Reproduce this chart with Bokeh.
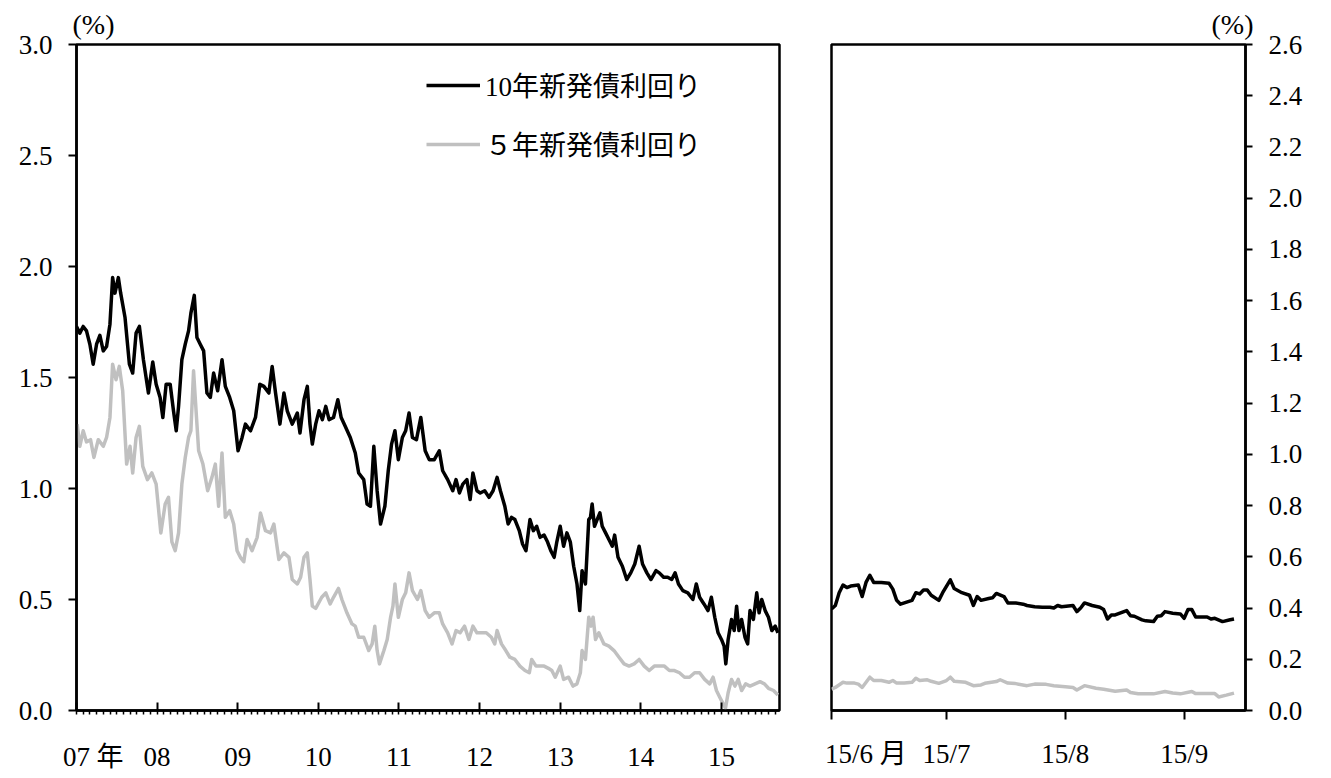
import pandas as pd
from bokeh.plotting import figure
from bokeh.layouts import row
from bokeh.models import (Range1d, FixedTicker, NumeralTickFormatter, Legend,
                          LegendItem, Title, ColumnDataSource, LinearAxis)
from bokeh.embed import file_html
from bokeh.resources import INLINE

FONT = "Liberation Serif, Noto Sans CJK JP"

# ---------------- data: long-run panel (decimal years) ----------------
years_10y = [2007.000, 2007.041, 2007.083, 2007.124, 2007.166, 2007.207, 2007.249, 2007.290, 2007.332, 2007.373,
             2007.415, 2007.448, 2007.477, 2007.519, 2007.548, 2007.602, 2007.656, 2007.697, 2007.739, 2007.780,
             2007.830, 2007.892, 2007.946, 2007.988, 2008.037, 2008.071, 2008.112, 2008.162, 2008.203, 2008.237,
             2008.266, 2008.307, 2008.349, 2008.390, 2008.419, 2008.461, 2008.494, 2008.535, 2008.577, 2008.618,
             2008.660, 2008.701, 2008.751, 2008.805, 2008.846, 2008.900, 2008.950, 2009.004, 2009.054, 2009.095,
             2009.158, 2009.220, 2009.274, 2009.324, 2009.386, 2009.427, 2009.469, 2009.523, 2009.573, 2009.614,
             2009.676, 2009.739, 2009.772, 2009.822, 2009.863, 2009.896, 2009.925, 2009.967,
             2010.008, 2010.050, 2010.092, 2010.133, 2010.188, 2010.242, 2010.283, 2010.333, 2010.396, 2010.458,
             2010.500, 2010.563, 2010.604, 2010.646, 2010.688, 2010.729, 2010.771, 2010.825, 2010.867, 2010.908,
             2010.950, 2010.992, 2011.042, 2011.083, 2011.125, 2011.167, 2011.217, 2011.271, 2011.325, 2011.375,
             2011.438, 2011.500, 2011.542, 2011.604, 2011.667, 2011.708, 2011.750, 2011.792, 2011.842, 2011.883,
             2011.917, 2011.967, 2012.008, 2012.063, 2012.117, 2012.167, 2012.217, 2012.258, 2012.313, 2012.354,
             2012.396, 2012.438, 2012.492, 2012.533, 2012.575, 2012.625, 2012.667, 2012.708, 2012.750, 2012.800,
             2012.842, 2012.883, 2012.925, 2012.958, 2013.000, 2013.042, 2013.083, 2013.125, 2013.167, 2013.208,
             2013.242, 2013.271, 2013.313, 2013.354, 2013.375, 2013.396, 2013.425, 2013.458, 2013.492, 2013.521,
             2013.563, 2013.604, 2013.646, 2013.675, 2013.717, 2013.771, 2013.825, 2013.875, 2013.925, 2013.979,
             2014.021, 2014.075, 2014.125, 2014.188, 2014.229, 2014.283, 2014.333, 2014.383, 2014.425, 2014.467,
             2014.521, 2014.583, 2014.646, 2014.688, 2014.729, 2014.783, 2014.833, 2014.875, 2014.917, 2014.958,
             2015.000, 2015.033, 2015.054, 2015.083, 2015.125, 2015.158, 2015.188, 2015.217, 2015.250, 2015.292,
             2015.325, 2015.354, 2015.396, 2015.438, 2015.467, 2015.500, 2015.542, 2015.583, 2015.625, 2015.667,
             2015.700]
yield_10y = [1.73, 1.70, 1.73, 1.71, 1.65, 1.56, 1.65, 1.69, 1.62, 1.64,
             1.74, 1.95, 1.88, 1.95, 1.88, 1.77, 1.56, 1.52, 1.70, 1.73,
             1.58, 1.43, 1.57, 1.47, 1.41, 1.32, 1.47, 1.47, 1.35, 1.26,
             1.37, 1.58, 1.65, 1.71, 1.79, 1.87, 1.68, 1.65, 1.62, 1.43,
             1.41, 1.52, 1.44, 1.58, 1.46, 1.41, 1.35, 1.17, 1.23, 1.29,
             1.26, 1.32, 1.47, 1.46, 1.43, 1.55, 1.43, 1.29, 1.43, 1.35,
             1.29, 1.34, 1.25, 1.40, 1.46, 1.29, 1.20, 1.29,
             1.35, 1.31, 1.37, 1.31, 1.32, 1.40, 1.32, 1.28, 1.23, 1.16,
             1.07, 1.04, 0.93, 0.92, 1.19, 0.99, 0.84, 0.92, 1.08, 1.20,
             1.26, 1.13, 1.23, 1.26, 1.34, 1.23, 1.22, 1.32, 1.17, 1.13,
             1.13, 1.17, 1.08, 1.04, 0.99, 1.04, 0.98, 1.02, 1.04, 0.95,
             1.07, 0.99, 0.98, 0.99, 0.96, 0.99, 1.05, 0.99, 0.92, 0.84,
             0.87, 0.86, 0.81, 0.75, 0.72, 0.86, 0.81, 0.83, 0.78, 0.79,
             0.76, 0.72, 0.69, 0.76, 0.83, 0.74, 0.80, 0.76, 0.65, 0.57,
             0.45, 0.63, 0.57, 0.86, 0.87, 0.93, 0.83, 0.86, 0.89, 0.83,
             0.80, 0.77, 0.74, 0.79, 0.69, 0.65, 0.59, 0.62, 0.66, 0.74,
             0.66, 0.62, 0.59, 0.63, 0.62, 0.60, 0.60, 0.59, 0.62, 0.57,
             0.54, 0.53, 0.50, 0.57, 0.51, 0.48, 0.45, 0.51, 0.42, 0.35,
             0.32, 0.29, 0.21, 0.32, 0.41, 0.36, 0.47, 0.36, 0.41, 0.33,
             0.30, 0.45, 0.41, 0.53, 0.44, 0.50, 0.45, 0.42, 0.36, 0.38,
             0.35]

years_5y = [2007.008, 2007.041, 2007.083, 2007.124, 2007.174, 2007.216, 2007.270, 2007.332, 2007.373, 2007.415,
            2007.448, 2007.490, 2007.531, 2007.573, 2007.622, 2007.664, 2007.697, 2007.739, 2007.780, 2007.822,
            2007.880, 2007.934, 2007.988, 2008.046, 2008.100, 2008.141, 2008.183, 2008.224, 2008.266, 2008.307,
            2008.349, 2008.390, 2008.419, 2008.452, 2008.485, 2008.515, 2008.568, 2008.627, 2008.680, 2008.722,
            2008.763, 2008.805, 2008.846, 2008.900, 2008.950, 2008.992, 2009.033, 2009.075, 2009.116, 2009.178,
            2009.241, 2009.282, 2009.344, 2009.407, 2009.448, 2009.510, 2009.573, 2009.635, 2009.676, 2009.739,
            2009.780, 2009.822, 2009.863, 2009.896, 2009.925, 2009.967,
            2010.042, 2010.092, 2010.146, 2010.188, 2010.250, 2010.292, 2010.354, 2010.417, 2010.458, 2010.500,
            2010.563, 2010.625, 2010.667, 2010.700, 2010.729, 2010.758, 2010.813, 2010.854, 2010.896, 2010.925,
            2010.950, 2010.992, 2011.042, 2011.083, 2011.125, 2011.167, 2011.229, 2011.271, 2011.325, 2011.375,
            2011.438, 2011.500, 2011.542, 2011.604, 2011.658, 2011.708, 2011.758, 2011.813, 2011.867, 2011.917,
            2011.967, 2012.021, 2012.083, 2012.146, 2012.188, 2012.217, 2012.271, 2012.325, 2012.375, 2012.438,
            2012.500, 2012.563, 2012.617, 2012.646, 2012.700, 2012.750, 2012.800, 2012.854, 2012.896, 2012.938,
            2013.000, 2013.042, 2013.104, 2013.158, 2013.208, 2013.250, 2013.271, 2013.313, 2013.354, 2013.383,
            2013.408, 2013.438, 2013.479, 2013.542, 2013.604, 2013.667, 2013.729, 2013.792, 2013.854, 2013.917,
            2013.979, 2014.042, 2014.104, 2014.167, 2014.229, 2014.292, 2014.354, 2014.417, 2014.479, 2014.542,
            2014.604, 2014.667, 2014.729, 2014.792, 2014.854, 2014.896, 2014.938, 2014.979, 2015.021, 2015.050,
            2015.083, 2015.125, 2015.167, 2015.208, 2015.250, 2015.300, 2015.354, 2015.417, 2015.479, 2015.533,
            2015.583, 2015.646, 2015.700]
yield_5y = [1.29, 1.19, 1.26, 1.21, 1.22, 1.14, 1.22, 1.19, 1.23, 1.32,
            1.56, 1.49, 1.55, 1.44, 1.11, 1.19, 1.07, 1.23, 1.28, 1.10,
            1.04, 1.07, 1.02, 0.80, 0.93, 0.96, 0.76, 0.72, 0.80, 1.02,
            1.14, 1.23, 1.26, 1.53, 1.34, 1.17, 1.11, 0.99, 1.05, 1.11,
            0.92, 1.16, 0.87, 0.90, 0.84, 0.72, 0.69, 0.67, 0.77, 0.72,
            0.78, 0.89, 0.81, 0.80, 0.84, 0.68, 0.71, 0.69, 0.59, 0.57,
            0.60, 0.69, 0.71, 0.59, 0.47, 0.46,
            0.51, 0.53, 0.48, 0.51, 0.55, 0.50, 0.44, 0.39, 0.38, 0.33,
            0.33, 0.27, 0.30, 0.38, 0.27, 0.21, 0.27, 0.32, 0.42, 0.47,
            0.57, 0.42, 0.50, 0.53, 0.62, 0.54, 0.50, 0.54, 0.45, 0.42,
            0.44, 0.44, 0.39, 0.35, 0.30, 0.36, 0.35, 0.38, 0.32, 0.38,
            0.35, 0.35, 0.35, 0.33, 0.30, 0.36, 0.30, 0.27, 0.24, 0.23,
            0.20, 0.18, 0.17, 0.23, 0.20, 0.20, 0.20, 0.19, 0.18, 0.15,
            0.20, 0.14, 0.15, 0.11, 0.12, 0.17, 0.27, 0.23, 0.42, 0.38,
            0.42, 0.32, 0.35, 0.30, 0.29, 0.27, 0.24, 0.21, 0.20, 0.21,
            0.23, 0.20, 0.18, 0.20, 0.20, 0.20, 0.18, 0.18, 0.17, 0.15,
            0.15, 0.17, 0.17, 0.14, 0.12, 0.15, 0.09, 0.06, 0.03, 0.01,
            0.08, 0.14, 0.11, 0.14, 0.09, 0.12, 0.11, 0.12, 0.13, 0.12,
            0.10, 0.09, 0.07]

year_ticks = [2007, 2008, 2009, 2010, 2011, 2012, 2013, 2014, 2015]
year_labels = ["07", "08", "09", "10", "11", "12", "13", "14", "15"]
year_unit = "年"

# ---------------- data: recent panel (daily, 2015/6 - 2015/9) ----------------
dates_10y_recent = ["2015-06-01", "2015-06-02", "2015-06-03", "2015-06-04", "2015-06-05", "2015-06-06", "2015-06-08",
                    "2015-06-09", "2015-06-10", "2015-06-11", "2015-06-12", "2015-06-14", "2015-06-16", "2015-06-17",
                    "2015-06-18", "2015-06-19", "2015-06-20", "2015-06-22", "2015-06-23", "2015-06-24", "2015-06-25",
                    "2015-06-26", "2015-06-27", "2015-06-29", "2015-06-30", "2015-07-02", "2015-07-03", "2015-07-05",
                    "2015-07-07", "2015-07-08", "2015-07-09", "2015-07-10", "2015-07-12", "2015-07-13", "2015-07-14",
                    "2015-07-16", "2015-07-17", "2015-07-19", "2015-07-21", "2015-07-22", "2015-07-24", "2015-07-26",
                    "2015-07-28", "2015-07-29", "2015-07-30", "2015-07-31", "2015-08-03", "2015-08-04", "2015-08-05",
                    "2015-08-06", "2015-08-08", "2015-08-10", "2015-08-11", "2015-08-12", "2015-08-13", "2015-08-14",
                    "2015-08-17", "2015-08-18", "2015-08-19", "2015-08-21", "2015-08-22", "2015-08-24", "2015-08-25",
                    "2015-08-26", "2015-08-27", "2015-08-29", "2015-08-31", "2015-09-01", "2015-09-02", "2015-09-03",
                    "2015-09-04", "2015-09-06", "2015-09-07", "2015-09-08", "2015-09-09", "2015-09-11", "2015-09-13",
                    "2015-09-14"]
yield_10y_recent = [0.396, 0.41, 0.46, 0.49, 0.48, 0.486, 0.49,
                    0.445, 0.50, 0.528, 0.50, 0.50, 0.497, 0.474,
                    0.43, 0.415, 0.42, 0.43, 0.46, 0.455, 0.47,
                    0.47, 0.45, 0.43, 0.46, 0.51, 0.476, 0.46,
                    0.45, 0.41, 0.445, 0.43, 0.437, 0.44, 0.457,
                    0.445, 0.42, 0.42, 0.415, 0.41, 0.405, 0.403,
                    0.403, 0.40, 0.41, 0.405, 0.41, 0.386, 0.40,
                    0.42, 0.41, 0.403, 0.394, 0.357, 0.373, 0.373,
                    0.39, 0.37, 0.368, 0.354, 0.35, 0.347, 0.368,
                    0.37, 0.386, 0.38, 0.377, 0.36, 0.394, 0.394,
                    0.365, 0.365, 0.365, 0.357, 0.36, 0.347, 0.354,
                    0.357]

dates_5y_recent = ["2015-06-01", "2015-06-02", "2015-06-04", "2015-06-05", "2015-06-07", "2015-06-08", "2015-06-09",
                   "2015-06-11", "2015-06-12", "2015-06-14", "2015-06-16", "2015-06-17", "2015-06-18", "2015-06-20",
                   "2015-06-22", "2015-06-23", "2015-06-24", "2015-06-26", "2015-06-27", "2015-06-29", "2015-07-01",
                   "2015-07-02", "2015-07-03", "2015-07-06", "2015-07-08", "2015-07-10", "2015-07-11", "2015-07-14",
                   "2015-07-15", "2015-07-17", "2015-07-19", "2015-07-22", "2015-07-24", "2015-07-27", "2015-07-29",
                   "2015-08-01", "2015-08-03", "2015-08-04", "2015-08-06", "2015-08-09", "2015-08-11", "2015-08-14",
                   "2015-08-17", "2015-08-18", "2015-08-20", "2015-08-24", "2015-08-27", "2015-08-29", "2015-08-31",
                   "2015-09-03", "2015-09-04", "2015-09-09", "2015-09-10", "2015-09-12", "2015-09-14"]
yield_5y_recent = [0.083, 0.09, 0.11, 0.107, 0.107, 0.103, 0.09,
                   0.13, 0.117, 0.117, 0.11, 0.117, 0.107, 0.107,
                   0.11, 0.126, 0.117, 0.12, 0.114, 0.106, 0.117,
                   0.13, 0.114, 0.11, 0.097, 0.10, 0.106, 0.113,
                   0.12, 0.107, 0.105, 0.097, 0.103, 0.102, 0.097,
                   0.093, 0.09, 0.08, 0.097, 0.087, 0.083, 0.075,
                   0.08, 0.07, 0.065, 0.065, 0.074, 0.068, 0.065,
                   0.074, 0.066, 0.066, 0.053, 0.06, 0.068]

month_tick_dates = ["2015-06-01", "2015-07-01", "2015-08-01", "2015-09-01"]
month_labels = ["15/6", "15/7", "15/8", "15/9"]
month_unit = "月"
recent_end = "2015-09-17"

legend_labels = ["10年新発債利回り", "５年新発債利回り"]
unit_label = "(%)"

BLACK = "#000000"
GRAY = "#c0c0c0"
TICK_FS = "27px"

def style_axis(ax):
    ax.axis_line_color = "black"
    ax.axis_line_width = 2.5
    ax.major_tick_line_color = "black"
    ax.major_tick_line_width = 2
    ax.minor_tick_line_width = 1.5
    ax.major_label_text_font = FONT
    ax.major_label_text_font_size = TICK_FS
    ax.major_label_text_color = "black"

def label_axis(ticks, labels, standoff):
    """Axis that carries only the tick texts (no line, no tick marks)."""
    ax = LinearAxis(ticker=FixedTicker(ticks=ticks),
                    major_label_overrides={t: l for t, l in zip(ticks, labels)})
    style_axis(ax)
    ax.axis_line_color = None
    ax.major_tick_line_color = None
    ax.minor_tick_line_color = None
    ax.major_tick_in = 0
    ax.major_tick_out = 0
    ax.minor_tick_in = 0
    ax.minor_tick_out = 0
    ax.major_label_standoff = standoff
    return ax

# ---------------- left panel ----------------
p1 = figure(width=799, height=776, x_range=Range1d(2007, 2015.72), y_range=Range1d(0, 3.0),
            output_backend="svg", toolbar_location=None,
            min_border_left=76, min_border_right=20, min_border_top=44, min_border_bottom=66)
p1.title = Title(text=unit_label, align="left", text_font=FONT, text_font_size="28px",
                 text_font_style="normal", text_color="black", offset=-4, standoff=10)

src5 = ColumnDataSource(dict(x=years_5y, y=yield_5y))
src10 = ColumnDataSource(dict(x=years_10y, y=yield_10y))
r5 = p1.line("x", "y", source=src5, line_color=GRAY, line_width=3.5, line_join="round")
r10 = p1.line("x", "y", source=src10, line_color=BLACK, line_width=3.5, line_join="round")

legend = Legend(items=[LegendItem(label=legend_labels[0], renderers=[r10]),
                       LegendItem(label=legend_labels[1], renderers=[r5])],
                location=(350, 547), glyph_width=54, glyph_height=30, label_height=30,
                spacing=20, padding=0, margin=0, label_standoff=5,
                label_text_font=FONT, label_text_font_size="27px", label_text_color="black",
                background_fill_alpha=0, border_line_color=None)
p1.add_layout(legend)

xa = p1.xaxis[0]
style_axis(xa)
xa.ticker = FixedTicker(ticks=year_ticks,
                        minor_ticks=[2007 + m / 12 for m in range(0, 8 * 12 + 9)])
xa.major_label_overrides = {t: "" for t in year_ticks}
xa.major_label_text_font_size = "1px"
xa.major_tick_in = 8
xa.major_tick_out = 0
xa.minor_tick_in = 0
xa.minor_tick_out = 4
xa.major_label_standoff = 0

year_unit_pos = 2007.415
p1.add_layout(label_axis(year_ticks + [year_unit_pos], year_labels + [year_unit], 27), "below")

ya = p1.yaxis[0]
style_axis(ya)
ya.ticker = FixedTicker(ticks=[0, 0.5, 1.0, 1.5, 2.0, 2.5, 3.0])
ya.formatter = NumeralTickFormatter(format="0.0")
ya.major_tick_in = 0
ya.major_tick_out = 8
ya.minor_tick_line_color = None
ya.major_label_standoff = 16

# ---------------- right panel ----------------
base = pd.Timestamp(month_tick_dates[0])
def days(ds):
    return [(pd.Timestamp(d) - base).days for d in ds]

month_ticks = days(month_tick_dates)
p2 = figure(width=516, height=776, x_range=Range1d(0, days([recent_end])[0]), y_range=Range1d(0, 2.6),
            output_backend="svg", toolbar_location=None, y_axis_location="right",
            min_border_left=32, min_border_right=70, min_border_top=44, min_border_bottom=66)
p2.title = Title(text=unit_label, align="right", text_font=FONT, text_font_size="28px",
                 text_font_style="normal", text_color="black", offset=-8, standoff=10)

p2.line(days(dates_5y_recent), yield_5y_recent, line_color=GRAY, line_width=3.5, line_join="round")
p2.line(days(dates_10y_recent), yield_10y_recent, line_color=BLACK, line_width=3.5, line_join="round")

xb = p2.xaxis[0]
style_axis(xb)
xb.ticker = FixedTicker(ticks=month_ticks)
xb.major_label_overrides = {t: "" for t in month_ticks}
xb.major_label_text_font_size = "1px"
xb.major_tick_in = 0
xb.major_tick_out = 9
xb.minor_tick_line_color = None
xb.major_label_standoff = 0

first_month_pos = 9.0
p2.add_layout(label_axis([first_month_pos] + month_ticks[1:],
                         [month_labels[0] + " " + month_unit] + month_labels[1:], 19), "below")

yb = p2.yaxis[0]
style_axis(yb)
yb.ticker = FixedTicker(ticks=[round(0.2 * i, 1) for i in range(14)])
yb.formatter = NumeralTickFormatter(format="0.0")
yb.major_tick_in = 0
yb.major_tick_out = 7
yb.minor_tick_line_color = None
yb.major_label_standoff = 16

for p in (p1, p2):
    p.grid.visible = False
    p.outline_line_color = "black"
    p.outline_line_width = 2.5
    p.outline_line_alpha = 1
    p.background_fill_color = "white"
    p.border_fill_color = "white"

layout = row(p1, p2, spacing=0)
open("out.html", "w").write(file_html(layout, INLINE))
